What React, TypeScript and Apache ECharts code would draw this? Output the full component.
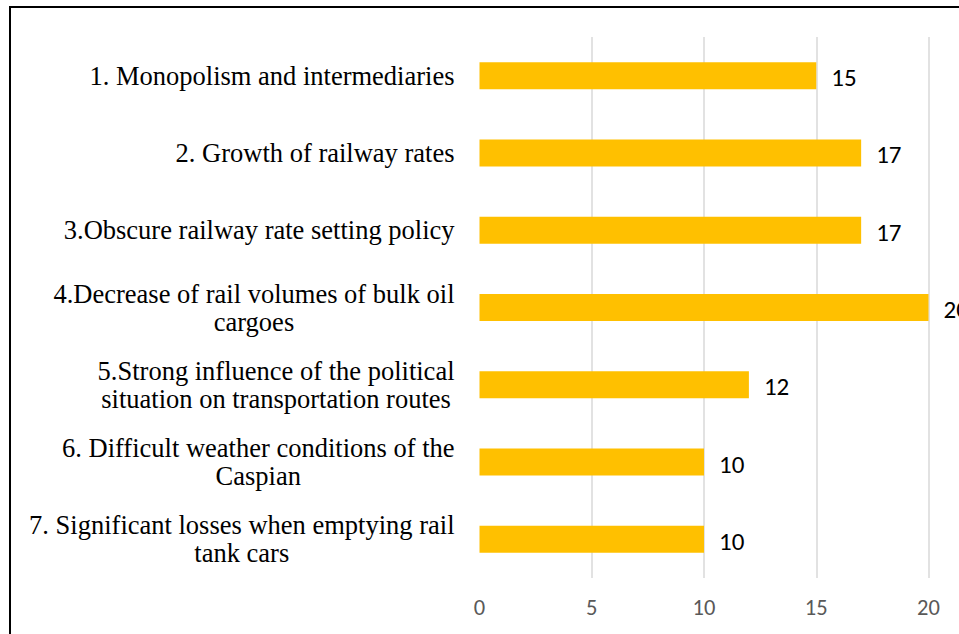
import React, { useEffect, useRef } from "react";
import * as echarts from "echarts";

const categories = [
  "1. Monopolism and intermediaries",
  "2. Growth of railway rates",
  "3.Obscure railway rate setting policy",
  "4.Decrease of rail volumes of bulk oil\ncargoes",
  "5.Strong influence of the political\nsituation on transportation routes",
  "6. Difficult weather conditions of the\nCaspian",
  "7. Significant losses when emptying rail\ntank cars",
];
const values = [15, 17, 17, 20, 12, 10, 10];
const xTicks = [0, 5, 10, 15, 20];

export default function App() {
  const ref = useRef<HTMLDivElement>(null);
  useEffect(() => {
    if (!ref.current) return;
    const chart = echarts.init(ref.current, null, { renderer: "svg" });
    chart.setOption({
      animation: false,
      backgroundColor: "#ffffff",
      grid: { left: 479.5, right: 959 - 928.5, top: 37, bottom: 56, containLabel: false },
      xAxis: {
        type: "value",
        min: xTicks[0],
        max: xTicks[xTicks.length - 1],
        interval: 5,
        axisLine: { show: false },
        axisTick: { show: false },
        axisLabel: {
          color: "#595959",
          fontFamily: "Carlito, Lato, sans-serif",
          fontSize: 22.5,
          margin: 18,
        },
        splitLine: {
          show: true,
          lineStyle: {
            color: ["rgba(0,0,0,0)", "#d9d9d9", "#d9d9d9", "#d9d9d9", "#d9d9d9"],
            width: 1.5,
          },
        },
      },
      yAxis: {
        type: "category",
        inverse: true,
        data: categories,
        axisLine: { show: false },
        axisTick: { show: false },
        axisLabel: {
          margin: 25,
          align: "right",
          formatter: (v: string) =>
            v
              .split("\n")
              .map((l) => `{c|${l}}`)
              .join("\n"),
          rich: {
            c: {
              align: "center",
              fontFamily: "Liberation Serif",
              fontSize: 26.5,
              lineHeight: 28,
              color: "#000000",
            },
          },
        },
      },
      series: [
        {
          type: "bar",
          data: values,
          barWidth: 27,
          itemStyle: { color: "#FFC000" },
          label: {
            show: true,
            position: "right",
            distance: 15,
            color: "#000000",
            fontFamily: "Carlito, Lato, sans-serif",
            fontSize: 25,
            offset: [0, 2],
          },
        },
      ],
      graphic: [
        {
          type: "rect",
          shape: { x: 10, y: 7, width: 1200, height: 1000 },
          style: { fill: "none", stroke: "#000000", lineWidth: 2 },
          silent: true,
          z: 100,
        },
      ],
    });
    return () => chart.dispose();
  }, []);
  return (
    <div
      ref={ref}
      style={{ position: "absolute", left: 0, top: 0, width: 959, height: 634 }}
    />
  );
}
